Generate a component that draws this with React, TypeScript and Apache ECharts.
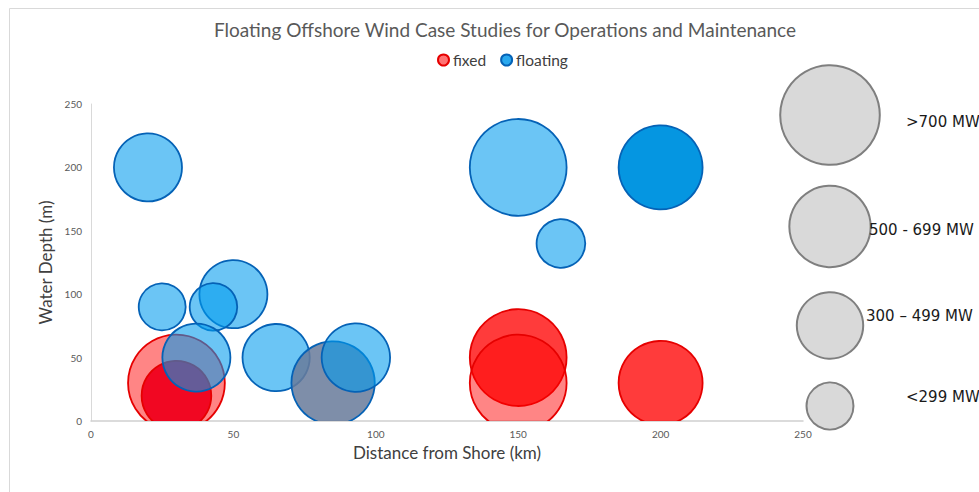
import React, { useEffect, useRef } from "react";
import * as echarts from "echarts";

// Distance from shore (km), water depth (m) and capacity (MW) per site
const fixedDistance = [30, 30, 150, 150, 200];
const fixedDepth = [30, 20, 50, 30, 30];
const fixedCapacity = [850, 440, 850, 850, 640];

const floatingDistance = [20, 25, 50, 43, 37, 65, 85, 93, 150, 165, 200];
const floatingDepth = [200, 90, 100, 90, 50, 50, 30, 50, 200, 140, 200];
const floatingCapacity = [420, 200, 420, 205, 420, 410, 630, 425, 850, 215, 640];

// Capacity bands shown in the size key
const sizeKeyLabels = [">700 MW", "500 - 699 MW", "300 \u2013 499 MW", "<299 MW"];
const sizeKeyCapacity = [900, 600, 400, 200];

const axisTicks = [0, 50, 100, 150, 200, 250];

// bubble area proportional to capacity
const bubbleRadius = (mw: number) => 1.66 * Math.sqrt(mw);

// per-bubble fill shades
const RED_LIGHT = "rgba(255,0,0,0.48)";
const RED_MID = "rgba(255,0,0,0.77)";
const RED_DEEP = "rgba(240,0,28,0.95)";
const fixedFill = [RED_LIGHT, RED_DEEP, RED_MID, RED_LIGHT, RED_MID];

const BLUE_LIGHT = "rgba(0,155,237,0.58)";
const BLUE_DARK = "rgba(0,148,224,0.98)";
const BLUE_SLATE = "rgba(105,123,155,0.86)";
const floatingFill = [
  BLUE_LIGHT, BLUE_LIGHT, BLUE_LIGHT, BLUE_LIGHT, BLUE_LIGHT, BLUE_LIGHT,
  BLUE_SLATE, BLUE_LIGHT, BLUE_LIGHT, BLUE_LIGHT, BLUE_DARK,
];

const RED_STROKE = "#e60000";
const BLUE_STROKE = "#0562b6";

const FONT = "Lato";
const KEY_FONT = "DejaVu Sans";

function bubbleSeries(
  name: string,
  xs: number[],
  ys: number[],
  caps: number[],
  fills: string[],
  stroke: string
) {
  return {
    type: "custom",
    name,
    clip: true,
    encode: { x: 0, y: 1 },
    data: xs.map((x, i) => [x, ys[i], caps[i]]),
    renderItem: (params: any, api: any) => {
      const c = api.coord([api.value(0), api.value(1)]);
      return {
        type: "circle",
        shape: { cx: c[0], cy: c[1], r: bubbleRadius(api.value(2)) },
        style: { fill: fills[params.dataIndex], stroke, lineWidth: 1.8 },
      };
    },
  };
}

export default function App() {
  const ref = useRef<HTMLDivElement>(null);

  useEffect(() => {
    document.body.style.margin = "0";
    if (!ref.current) return;
    const chart = echarts.init(ref.current, null, { renderer: "svg" });

    const keyCenterY = [115, 226.5, 325.5, 406];
    const keyTextX = [906, 869, 866, 906];
    const keyTextY = [122, 230, 316, 397];

    const sizeKey: any[] = [];
    sizeKeyCapacity.forEach((mw, i) => {
      sizeKey.push({
        type: "circle",
        shape: { cx: 830, cy: keyCenterY[i], r: bubbleRadius(mw) },
        style: { fill: "#d9d9d9", stroke: "#7f7f7f", lineWidth: 2 },
        z: 10,
      });
      sizeKey.push({
        type: "text",
        x: keyTextX[i],
        y: keyTextY[i],
        style: {
          text: sizeKeyLabels[i],
          fill: "#1a1a1a",
          font: `15px "${KEY_FONT}"`,
          textVerticalAlign: "middle",
        },
        z: 10,
      });
    });

    chart.setOption({
      animation: false,
      backgroundColor: "#ffffff",
      textStyle: { fontFamily: FONT },
      title: {
        text: "Floating Offshore Wind Case Studies for Operations and Maintenance",
        left: 500,
        textAlign: "center",
        top: 15,
        textStyle: { color: "#595959", fontSize: 19, fontWeight: "normal", fontFamily: FONT },
      },
      legend: {
        left: 432,
        top: 47,
        icon: "circle",
        itemWidth: 11,
        itemHeight: 11,
        itemGap: 14,
        textStyle: { color: "#404040", fontSize: 15.5, fontFamily: FONT, padding: [0, 0, 0, -1] },
        data: [
          { name: "fixed", itemStyle: { color: "rgba(255,90,90,0.85)", borderColor: RED_STROKE, borderWidth: 2 } },
          { name: "floating", itemStyle: { color: "#29a8ee", borderColor: BLUE_STROKE, borderWidth: 2 } },
        ],
      },
      grid: { left: 91, top: 104, width: 712, height: 317 },
      xAxis: {
        type: "value",
        min: axisTicks[0],
        max: axisTicks[axisTicks.length - 1],
        interval: 50,
        name: "Distance from Shore (km)",
        nameLocation: "middle",
        nameGap: 22,
        nameTextStyle: { color: "#404040", fontSize: 17, fontFamily: FONT },
        axisLine: { show: true, lineStyle: { color: "#cfcfcf", width: 1.5 } },
        axisTick: { show: false },
        splitLine: { show: false },
        axisLabel: { color: "#595959", fontSize: 10, margin: 8, fontFamily: FONT },
      },
      yAxis: {
        type: "value",
        min: axisTicks[0],
        max: axisTicks[axisTicks.length - 1],
        interval: 50,
        name: "Water Depth (m)",
        nameLocation: "middle",
        nameGap: 30,
        nameRotate: 90,
        nameTextStyle: { color: "#404040", fontSize: 17, fontFamily: FONT },
        axisLine: { show: true, lineStyle: { color: "#d9d9d9", width: 1 } },
        axisTick: { show: false },
        splitLine: { show: false },
        axisLabel: { color: "#595959", fontSize: 10, margin: 9, fontFamily: FONT },
      },
      graphic: [
        {
          type: "rect",
          shape: { x: 9.5, y: 8.5, width: 1200, height: 600 },
          style: { fill: "none", stroke: "#d9d9d9", lineWidth: 1 },
          silent: true,
          z: -1,
        },
        ...sizeKey,
      ],
      series: [
        bubbleSeries("fixed", fixedDistance, fixedDepth, fixedCapacity, fixedFill, RED_STROKE),
        bubbleSeries("floating", floatingDistance, floatingDepth, floatingCapacity, floatingFill, BLUE_STROKE),
      ],
    });

    return () => chart.dispose();
  }, []);

  return <div ref={ref} style={{ width: 979, height: 492 }} />;
}
